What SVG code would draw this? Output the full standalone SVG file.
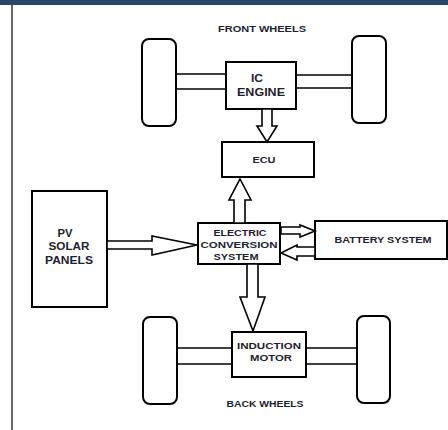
<svg xmlns="http://www.w3.org/2000/svg" width="448" height="430" viewBox="0 0 448 430">
<style>
.box{fill:#fff;stroke:#000;stroke-width:2}
.wheel{fill:#fff;stroke:#000;stroke-width:2}
.axle{stroke:#000;stroke-width:1.6;fill:none}
.arr{fill:#fff;stroke:#000;stroke-width:1.6;stroke-linejoin:miter}
.t{font-family:"Liberation Sans",Arial,sans-serif;font-weight:bold;fill:#1e2230;text-anchor:middle}
</style>
<rect x="0" y="0" width="448" height="430" fill="#fff"/>
<rect x="0" y="0" width="448" height="5" fill="#274668"/>
<line x1="12" y1="5" x2="12" y2="430" stroke="#333" stroke-width="1.5"/>

<g id="front-wheels">
<text class="t" x="262" y="32" font-size="8.5" textLength="88" lengthAdjust="spacingAndGlyphs">FRONT WHEELS</text>
<rect class="wheel" x="142" y="39" width="34" height="87" rx="7"/>
<rect class="wheel" x="352" y="36" width="34" height="87" rx="7"/>
<line class="axle" x1="176" y1="74" x2="226" y2="74"/>
<line class="axle" x1="176" y1="89" x2="226" y2="89"/>
<line class="axle" x1="296" y1="75" x2="352" y2="75"/>
<line class="axle" x1="296" y1="88" x2="352" y2="88"/>
</g>

<g id="ic-engine">
<rect class="box" x="226" y="62" width="70" height="47"/>
<text class="t" x="257" y="82" font-size="10" textLength="12" lengthAdjust="spacingAndGlyphs">IC</text>
<text class="t" x="261" y="96" font-size="10" textLength="48" lengthAdjust="spacingAndGlyphs">ENGINE</text>
</g>

<g id="ecu">
<rect class="box" x="222" y="142" width="92" height="35"/>
<text class="t" x="264" y="163" font-size="9" textLength="23" lengthAdjust="spacingAndGlyphs">ECU</text>
</g>

<g id="pv-solar-panels">
<rect class="box" x="32" y="191" width="75" height="116"/>
<text class="t" x="65" y="237" font-size="11" textLength="15" lengthAdjust="spacingAndGlyphs">PV</text>
<text class="t" x="69" y="250" font-size="11" textLength="41" lengthAdjust="spacingAndGlyphs">SOLAR</text>
<text class="t" x="69" y="264" font-size="11" textLength="48" lengthAdjust="spacingAndGlyphs">PANELS</text>
</g>

<g id="electric-conversion-system">
<rect class="box" x="198" y="223" width="82" height="41"/>
<text class="t" x="240" y="236" font-size="8.5" textLength="53" lengthAdjust="spacingAndGlyphs">ELECTRIC</text>
<text class="t" x="239" y="248" font-size="8.5" textLength="77" lengthAdjust="spacingAndGlyphs">CONVERSION</text>
<text class="t" x="236" y="260" font-size="8.5" textLength="45" lengthAdjust="spacingAndGlyphs">SYSTEM</text>
</g>

<g id="battery-system">
<rect class="box" x="315" y="221" width="132" height="38"/>
<text class="t" x="383" y="243" font-size="8.5" textLength="97" lengthAdjust="spacingAndGlyphs">BATTERY SYSTEM</text>
</g>

<g id="induction-motor">
<rect class="box" x="232" y="332" width="74" height="45"/>
<text class="t" x="269" y="349" font-size="9" textLength="64" lengthAdjust="spacingAndGlyphs">INDUCTION</text>
<text class="t" x="271" y="361" font-size="9" textLength="42" lengthAdjust="spacingAndGlyphs">MOTOR</text>
</g>

<g id="back-wheels">
<rect class="wheel" x="143" y="317" width="34" height="87" rx="7"/>
<rect class="wheel" x="357" y="316" width="33" height="87" rx="7"/>
<line class="axle" x1="177" y1="348" x2="232" y2="348"/>
<line class="axle" x1="177" y1="364" x2="232" y2="364"/>
<line class="axle" x1="306" y1="348" x2="357" y2="348"/>
<line class="axle" x1="306" y1="364" x2="357" y2="364"/>
<text class="t" x="265" y="407" font-size="8.5" textLength="77" lengthAdjust="spacingAndGlyphs">BACK WHEELS</text>
</g>

<g id="connectors">
<polygon class="arr" points="262,109 272,109 272,126 277,126 267,142 257,126 262,126"/>
<polygon class="arr" points="240,179 251,200 245,200 245,223 234,223 234,200 229,200"/>
<polygon class="arr" points="107,241 152,241 152,236 197,245 152,255 152,249 107,249"/>
<polygon class="arr" points="281,227 300,227 300,225 315,231 300,237 300,234 281,234"/>
<polygon class="arr" points="315,247 297,247 297,245 281,253 297,260 297,256 315,256"/>
<polygon class="arr" points="247,264 258,264 258,297 265,297 253,331 240,297 247,297"/>
</g>
</svg>
